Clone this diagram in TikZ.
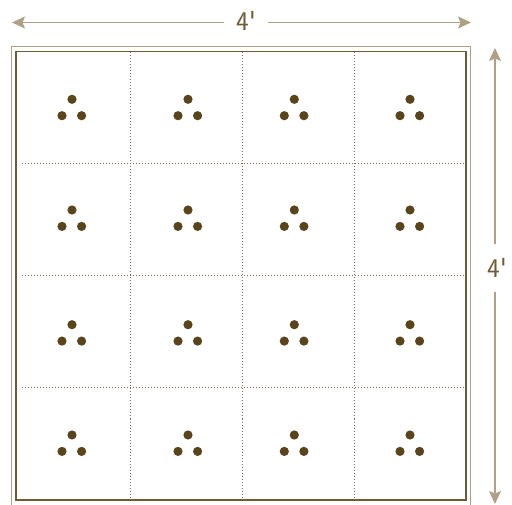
\documentclass[tikz,border=0pt]{standalone}
\usetikzlibrary{arrows.meta}
\definecolor{tan}{HTML}{B0A186}
\definecolor{brn}{HTML}{5A441C}
\definecolor{frame}{HTML}{6E5A36}
\definecolor{dotline}{HTML}{7D6C4C}
\tikzset{
  arr/.style={draw=tan, line width=1.4pt, -{Stealth[length=13pt,width=12pt,inset=2.5pt]}},
  dim/.style={text=frame, font=\sffamily\fontsize{27}{30}\selectfont, inner sep=0pt},
  grid/.style={draw=dotline, line width=1pt, dash pattern=on 1pt off 2pt},
  seed/.style={fill=brn},
}
\begin{document}
\begin{tikzpicture}[x=1pt,y=-1pt]
\useasboundingbox (0,0) rectangle (512,505);
\clip (0,0) rectangle (512,505);
% outer and inner frames
\draw[tan, line width=1.6pt] (11.5,46.5) rectangle (470.5,512);
\draw[frame, line width=1.5pt] (16,51.5) rectangle (466,500);
% dotted grid
\foreach \x in {130,242,354} \draw[grid] (\x,52.5) -- (\x,499);
\foreach \y in {164,276,388} \draw[grid] (22,\y) -- (465,\y);
% seed triangles
\foreach \cx in {72,188,294.3,410}
  \foreach \cy in {99.3,210,324.7,435} {
    \fill[seed] (\cx,\cy) circle (4.6);
    \fill[seed] (\cx-10,\cy+16.4) circle (4.6);
    \fill[seed] (\cx+9.6,\cy+16.4) circle (4.6);
  }
% dimensions
\node[dim, minimum width=44pt, minimum height=20pt] (ht) at (246,21) {4\textquotesingle};
\coordinate (hl) at (12,22.5);
\coordinate (hr) at (471,22.5);
\draw[arr] (ht.west |- hl) -- (hl);
\draw[arr] (ht.east |- hr) -- (hr);
\node[dim, minimum width=24pt, minimum height=48pt] (vt) at (497,268) {4\textquotesingle};
\coordinate (vtop) at (495,48);
\coordinate (vbot) at (495,504);
\draw[arr] (vt.north -| vtop) -- (vtop);
\draw[arr] (vt.south -| vbot) -- (vbot);
\end{tikzpicture}
\end{document}
